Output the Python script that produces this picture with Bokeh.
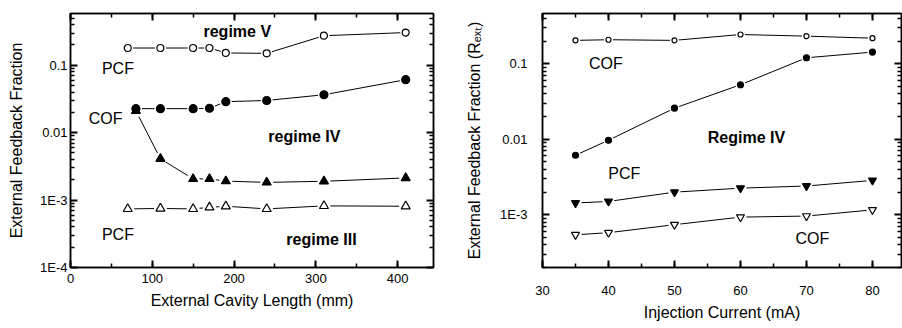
from bokeh.plotting import figure
from bokeh.layouts import row
from bokeh.models import (Range1d, LinearAxis, LogAxis, SingleIntervalTicker,
                          FixedTicker, CustomJSTickFormatter, Label)
from bokeh.embed import file_html
from bokeh.resources import INLINE

FONT = "Liberation Sans"

# ---- left panel: feedback fraction vs external cavity length ----
length_open_circle = [70, 110, 150, 170, 190, 240, 310, 410]
frac_open_circle = [0.18, 0.18, 0.18, 0.18, 0.152, 0.15, 0.274, 0.305]

length_filled = [80, 110, 150, 170, 190, 240, 310, 410]
frac_filled_circle = [0.0227, 0.0227, 0.0227, 0.023, 0.0288, 0.030, 0.0365, 0.061]
frac_filled_triangle = [0.021, 0.0041, 0.00206, 0.00206, 0.00191, 0.00183, 0.0019, 0.00213]

length_open_triangle = [70, 110, 150, 170, 190, 240, 310, 410]
frac_open_triangle = [0.00074, 0.00075, 0.00074, 0.00078, 0.00081, 0.00074, 0.00082, 0.00081]

left_notes = [
    ("regime V", 204, 0.32, "bold"),
    ("PCF", 58, 0.088, "normal"),
    ("COF", 43, 0.016, "normal"),
    ("regime IV", 286, 0.0089, "bold"),
    ("PCF", 58, 3.04e-4, "normal"),
    ("regime III", 307, 2.59e-4, "bold"),
]

# ---- right panel: feedback fraction vs injection current ----
current_ma = [35, 40, 50, 60, 70, 80]
frac_open_dot = [0.204, 0.208, 0.204, 0.244, 0.232, 0.218]
frac_filled_dot = [0.00614, 0.0097, 0.0258, 0.0527, 0.12, 0.1426]
frac_filled_down = [0.00143, 0.0015, 0.00199, 0.00225, 0.0024, 0.00285]
frac_open_down = [0.000543, 0.000578, 0.000738, 0.00093, 0.00096, 0.00116]

right_notes = [
    ("COF", 39.6, 0.1, "normal"),
    ("Regime IV", 60.9, 0.0106, "bold"),
    ("PCF", 42.4, 0.00356, "normal"),
    ("COF", 70.9, 4.81e-4, "normal"),
]

# decade ticks with 2..9 minor ticks in between
decades = [-4, -3, -2, -1]
log_major = [10.0 ** e for e in decades]
log_minor = [m * 10.0 ** e for e in decades for m in range(2, 10)]

log_fmt = CustomJSTickFormatter(code="""
const e = Math.round(Math.log10(tick));
if (e === -1) return "0.1";
if (e === -2) return "0.01";
return "1E" + e;
""")
blank_fmt = CustomJSTickFormatter(code="return '';")


def log_ticker():
    return FixedTicker(ticks=log_major, minor_ticks=log_minor)


def style_axis(ax, tick_in, minor_in, standoff, label_standoff):
    ax.major_tick_in = tick_in
    ax.major_tick_out = 0
    ax.minor_tick_in = minor_in
    ax.minor_tick_out = 0
    ax.axis_line_color = "black"
    ax.axis_line_width = 1.5
    ax.major_tick_line_color = "black"
    ax.major_tick_line_width = 2
    ax.minor_tick_line_color = "black"
    ax.minor_tick_line_width = 1.5
    ax.major_label_text_font = FONT
    ax.major_label_text_font_size = "13px"
    ax.major_label_text_color = "black"
    ax.major_label_standoff = standoff
    ax.axis_label_text_font = FONT
    ax.axis_label_text_font_size = "16px"
    ax.axis_label_text_font_style = "normal"
    ax.axis_label_text_color = "black"
    ax.axis_label_standoff = label_standoff


def mirror_axes(p, xticker):
    top = LinearAxis(ticker=xticker, formatter=blank_fmt)
    rgt = LogAxis(ticker=log_ticker(), formatter=blank_fmt)
    for ax in (top, rgt):
        style_axis(ax, 7, 4, 0, 0)
    p.add_layout(top, "above")
    p.add_layout(rgt, "right")


def make_panel(width, borders, xr, yr, xticker, xlabel, ylabel, xs_std, ys_std,
               xl_std, yl_std):
    p = figure(width=width, height=328, x_range=Range1d(*xr), y_range=Range1d(*yr),
               y_axis_type="log", output_backend="svg", toolbar_location=None,
               min_border_left=borders[0], min_border_right=borders[1],
               min_border_top=borders[2], min_border_bottom=borders[3])
    p.grid.visible = False
    p.outline_line_color = "black"
    p.outline_line_width = 1.5
    p.xaxis.ticker = xticker
    p.yaxis.ticker = log_ticker()
    p.xaxis.axis_label = xlabel
    p.yaxis.axis_label = ylabel
    p.yaxis.formatter = log_fmt
    for ax in p.xaxis:
        style_axis(ax, 7, 4, xs_std, xl_std)
    for ax in p.yaxis:
        style_axis(ax, 7, 4, ys_std, yl_std)
    mirror_axes(p, xticker)
    return p


def draw(p, series):
    # lines first, then white halos to leave gaps, then markers on top
    for x, y, marker, fill, size in series:
        p.line(x, y, line_color="black", line_width=1)
    for x, y, marker, fill, size in series:
        p.scatter(x, y, marker="circle", size=size + 4, fill_color="white", line_color=None)
    for x, y, marker, fill, size in series:
        p.scatter(x, y, marker=marker, size=size, fill_color=fill,
                  line_color="black", line_width=1.2)


def annotate(p, notes):
    for text, x, y, style in notes:
        p.add_layout(Label(x=x, y=y, text=text, text_font=FONT, text_font_size="16px",
                           text_font_style=style, text_color="black",
                           text_align="center", text_baseline="middle"))


left = make_panel(450, (70, 17, 13, 45), (0, 444), (1e-4, 0.585),
                  SingleIntervalTicker(interval=100, num_minor_ticks=2),
                  "External Cavity Length (mm)", "External Feedback Fraction",
                  6, 3, 6, 12)
draw(left, [
    (length_open_circle, frac_open_circle, "circle", "white", 7),
    (length_filled, frac_filled_circle, "circle", "black", 8),
    (length_filled, frac_filled_triangle, "triangle", "black", 9),
    (length_open_triangle, frac_open_triangle, "triangle", "white", 9),
])
annotate(left, left_notes)

right = make_panel(452, (92, 1, 13, 61), (30, 84.4), (2.0e-4, 0.463),
                   SingleIntervalTicker(interval=10, num_minor_ticks=2),
                   "Injection Current (mA)",
                   "External Feedback Fraction (R\u2091\u2093\u209c)",
                   18, 15, 6, 14)
draw(right, [
    (current_ma, frac_open_dot, "circle", "white", 5),
    (current_ma, frac_filled_dot, "circle", "black", 6),
    (current_ma, frac_filled_down, "inverted_triangle", "black", 8),
    (current_ma, frac_open_down, "inverted_triangle", "white", 8),
])
annotate(right, right_notes)

layout = row(left, right)
open("out.html", "w").write(file_html(layout, INLINE))
